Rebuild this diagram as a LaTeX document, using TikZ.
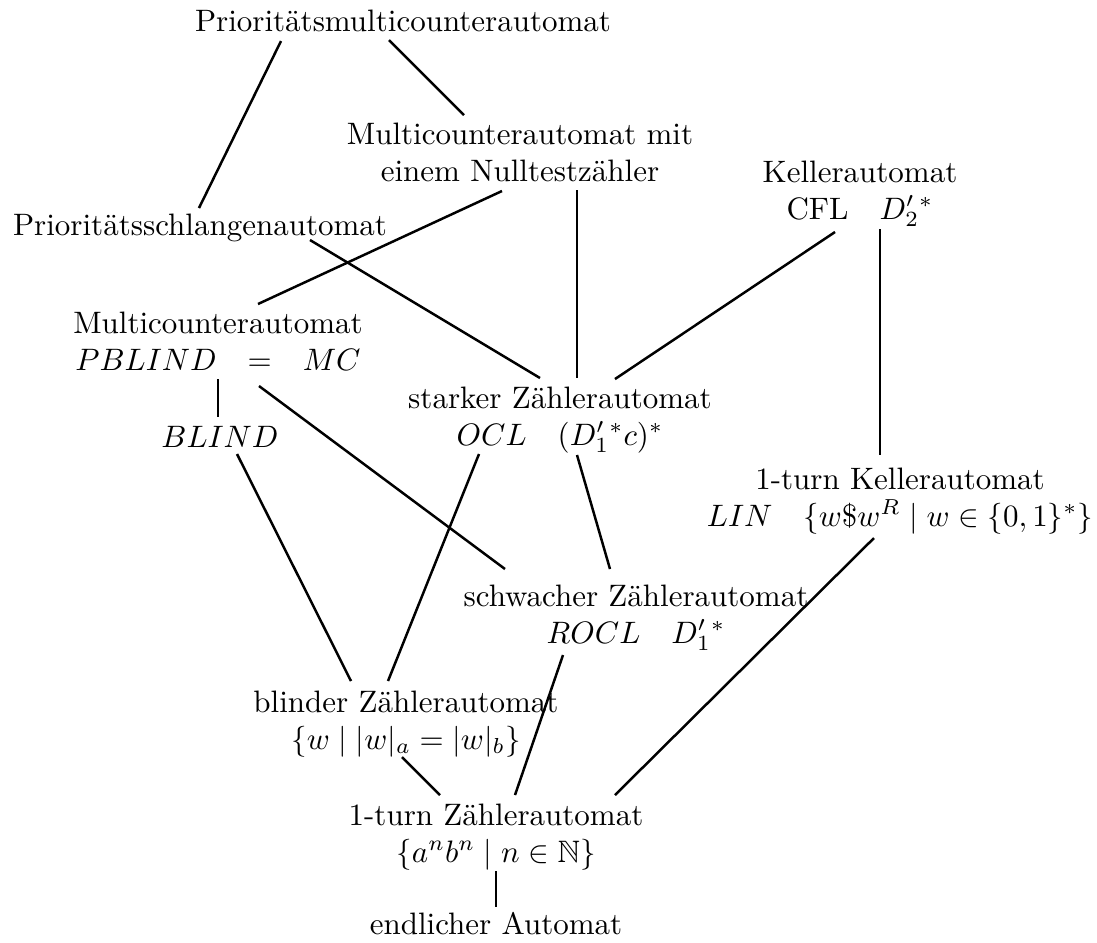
\documentclass[tikz,border=0pt]{standalone}
\usepackage{amssymb}
\usepackage{fontspec}
\usetikzlibrary{calc}
\begin{document}
\begin{tikzpicture}[x=0.3226pt,y=-0.3226pt,
  lbl/.style={anchor=base,inner sep=0pt},
  edge/.style={line width=0.8pt}]
\useasboundingbox (0,0) rectangle (1097,942);

% automaton classes, one node per text line
\node[lbl] (pmc)   at (403,31)  {Prioritätsmulticounterautomat};
\node[lbl] (mcn1)  at (520,144) {Multicounterautomat mit};
\node[lbl] (mcn2)  at (520,181) {einem Nulltestzähler};
\node[lbl] (kel1)  at (860,182) {Kellerautomat};
\node[lbl] (kel2)  at (860,219) {CFL\quad $D'_2{}^*$};
\node[lbl] (psa)   at (200,235) {Prioritätsschlangenautomat};
\node[lbl] (mca1)  at (218,333) {Multicounterautomat};
\node[lbl] (mca2)  at (218,370) {$PBLIND$\quad$=$\quad$MC$};
\node[lbl] (blind) at (220,447) {$BLIND$};
\node[lbl] (stz1)  at (560,408) {starker Zählerautomat};
\node[lbl] (stz2)  at (560,445) {$OCL\quad(D'_1{}^*c)^*$};
\node[lbl] (tkel1) at (900,489) {1-turn Kellerautomat};
\node[lbl] (tkel2) at (900,526) {$LIN\quad\{w\$w^R\mid w\in\{0,1\}^*\}$};
\node[lbl] (swz1)  at (636,606) {schwacher Zählerautomat};
\node[lbl] (swz2)  at (636,643) {$ROCL\quad D'_1{}^*$};
\node[lbl] (blz1)  at (406,712) {blinder Zählerautomat};
\node[lbl] (blz2)  at (406,749) {$\{w\mid |w|_a=|w|_b\}$};
\node[lbl] (tz1)   at (496,825) {1-turn Zählerautomat};
\node[lbl] (tz2)   at (496,862) {$\{a^nb^n\mid n\in\mathbb{N}\}$};
\node[lbl] (ea)    at (496,934) {endlicher Automat};

% inclusion edges
\draw[edge] ($(pmc.base)+(-122,10)$) -- ($(psa.base)+(-1,-27)$);
\draw[edge] ($(pmc.base)+(-14,9)$)   -- ($(mcn1.base)+(-56,-29)$);
\draw[edge] ($(mcn2.base)+(-18,10)$) -- ($(mca1.base)+(40,-29)$);
\draw[edge] ($(mcn2.base)+(57,9)$)   -- ($(stz1.base)+(17,-30)$);
\draw[edge] ($(psa.base)+(110,5)$)   -- ($(stz1.base)+(-20,-30)$);
\draw[edge] ($(kel2.base)+(-25,13)$) -- ($(stz1.base)+(55,-29)$);
\draw[edge] ($(kel2.base)+(20,10)$)  -- ($(tkel1.base)+(-20,-34)$);
\draw[edge] ($(mca2.base)+(0,9)$)    -- ($(blind.base)+(-2,-30)$);
\draw[edge] ($(mca2.base)+(41,16)$)  -- ($(swz1.base)+(-131,-37)$);
\draw[edge] ($(blind.base)+(17,7)$)  -- ($(blz1.base)+(-55,-31)$);
\draw[edge] ($(stz2.base)+(-81,9)$)  -- ($(blz1.base)+(-18,-31)$);
\draw[edge] ($(stz2.base)+(17,10)$)  -- ($(swz1.base)+(-26,-37)$);
\draw[edge] ($(tkel2.base)+(-26,12)$) -- ($(tz1.base)+(119,-30)$);
\draw[edge] ($(swz2.base)+(-73,12)$) -- ($(tz1.base)+(19,-30)$);
\draw[edge] ($(blz2.base)+(-4,8)$)   -- ($(tz1.base)+(-56,-30)$);
\draw[edge] ($(tz2.base)+(0,9)$)     -- ($(ea.base)+(0,-27)$);
\end{tikzpicture}
\end{document}
